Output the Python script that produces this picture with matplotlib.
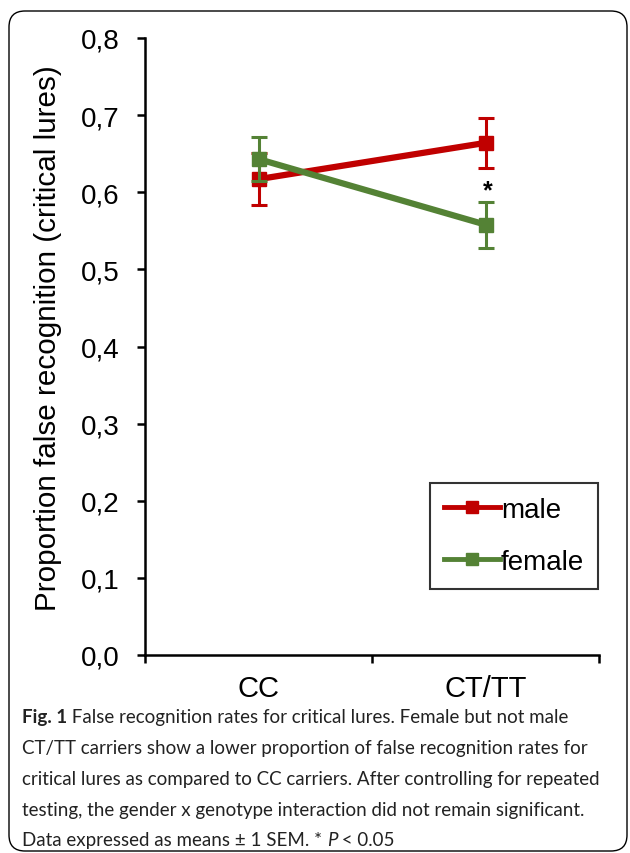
import matplotlib
matplotlib.use("Agg")
import matplotlib.pyplot as plt
from matplotlib.patches import FancyBboxPatch
from matplotlib.lines import Line2D
from matplotlib.transforms import IdentityTransform
import numpy as np

categories = ["CC", "CT/TT"]
male_mean = [0.617, 0.664]
male_sem = [0.034, 0.032]
female_mean = [0.643, 0.558]
female_sem = [0.029, 0.030]
yticks = [0.0, 0.1, 0.2, 0.3, 0.4, 0.5, 0.6, 0.7, 0.8]
ytick_labels = ["0,0", "0,1", "0,2", "0,3", "0,4", "0,5", "0,6", "0,7", "0,8"]
sig_marker_y = 0.603

RED = "#C00000"
GREEN = "#548235"

plt.rcParams["font.family"] = ["Liberation Sans", "DejaVu Sans"]

fig = plt.figure(figsize=(6.3, 8.54), dpi=100)
ax = fig.add_axes([145/630, 1-656/854, 454/630, 617/854])

x = np.arange(len(categories)) + 0.5
ax.errorbar(x, male_mean, yerr=male_sem, color=RED, lw=4.5, marker="s", ms=10,
            elinewidth=2.2, capsize=6, capthick=2.2, zorder=3)
ax.errorbar(x, female_mean, yerr=female_sem, color=GREEN, lw=4.5, marker="s", ms=10,
            elinewidth=2.2, capsize=6, capthick=2.2, zorder=4)
ax.text(x[1] + 0.012, sig_marker_y, "*", ha="center", va="center", fontsize=18, fontweight="bold")

ax.set_xlim(0, 2)
ax.set_ylim(0, 0.8)
ax.set_yticks(yticks)
ax.set_yticklabels(ytick_labels)
ax.set_xticks([0, 1, 2])
ax.set_xticklabels([])
ax.set_xticks(x, minor=True)
ax.set_xticklabels(categories, minor=True)
for s in ["top", "right"]:
    ax.spines[s].set_visible(False)
for s in ["left", "bottom"]:
    ax.spines[s].set_linewidth(1.8)
ax.tick_params(axis="y", direction="out", length=6, width=1.8, labelsize=20, pad=12)
ax.tick_params(axis="x", which="major", direction="out", length=6, width=1.8)
ax.tick_params(axis="x", which="minor", length=0, labelsize=21, pad=14)

fig.text(48/630, 1-338/854, "Proportion false recognition (critical lures)", rotation=90,
         ha="center", va="center", fontsize=21.3)

handles = [Line2D([], [], color=RED, lw=3.5, marker="s", ms=8),
           Line2D([], [], color=GREEN, lw=3.5, marker="s", ms=8)]
leg = ax.legend(handles, ["male", "female"], loc="lower right", bbox_to_anchor=(0.998, 0.107),
                borderaxespad=0, fontsize=20, frameon=True, fancybox=False, edgecolor="black",
                handlelength=2.0, handletextpad=0.05, labelspacing=0.95, borderpad=0.5)
leg.get_frame().set_linewidth(1.5)

# Border around figure
border = FancyBboxPatch((9, 2), 618, 840, boxstyle="round,pad=0,rounding_size=16",
                        transform=IdentityTransform(), fill=False, edgecolor="black",
                        linewidth=1.0, figure=fig)
fig.patches.append(border)

# Caption
cap_lines = [
    "False recognition rates for critical lures. Female but not male",
    "CT/TT carriers show a lower proportion of false recognition rates for",
    "critical lures as compared to CC carriers. After controlling for repeated",
    "testing, the gender x genotype interaction did not remain significant.",
    "Data expressed as means \u00b1 1 SEM. * ",
]
cap_font = dict(family=["Lato", "DejaVu Sans"], fontsize=13.5, color="#222222")
renderer = fig.canvas.get_renderer()
x0 = 22
y_base = [723, 754, 785, 816, 846]

def put(xpix, ypix, s, **kw):
    t = fig.text(xpix/630, 1-ypix/854, s, ha="left", va="baseline", **{**cap_font, **kw})
    bb = t.get_window_extent(renderer)
    return bb.x1

xe = put(x0, y_base[0], "Fig. 1", fontweight="bold")
put(xe, y_base[0], " " + cap_lines[0], fontweight="normal")
for i in range(1, 4):
    put(x0, y_base[i], cap_lines[i], fontweight="normal")
xe = put(x0, y_base[4], cap_lines[4], fontweight="normal")
xe = put(xe, y_base[4], "P", fontweight="normal", style="italic")
put(xe, y_base[4], " < 0.05", fontweight="normal")

fig.savefig("out.png", dpi=100)
